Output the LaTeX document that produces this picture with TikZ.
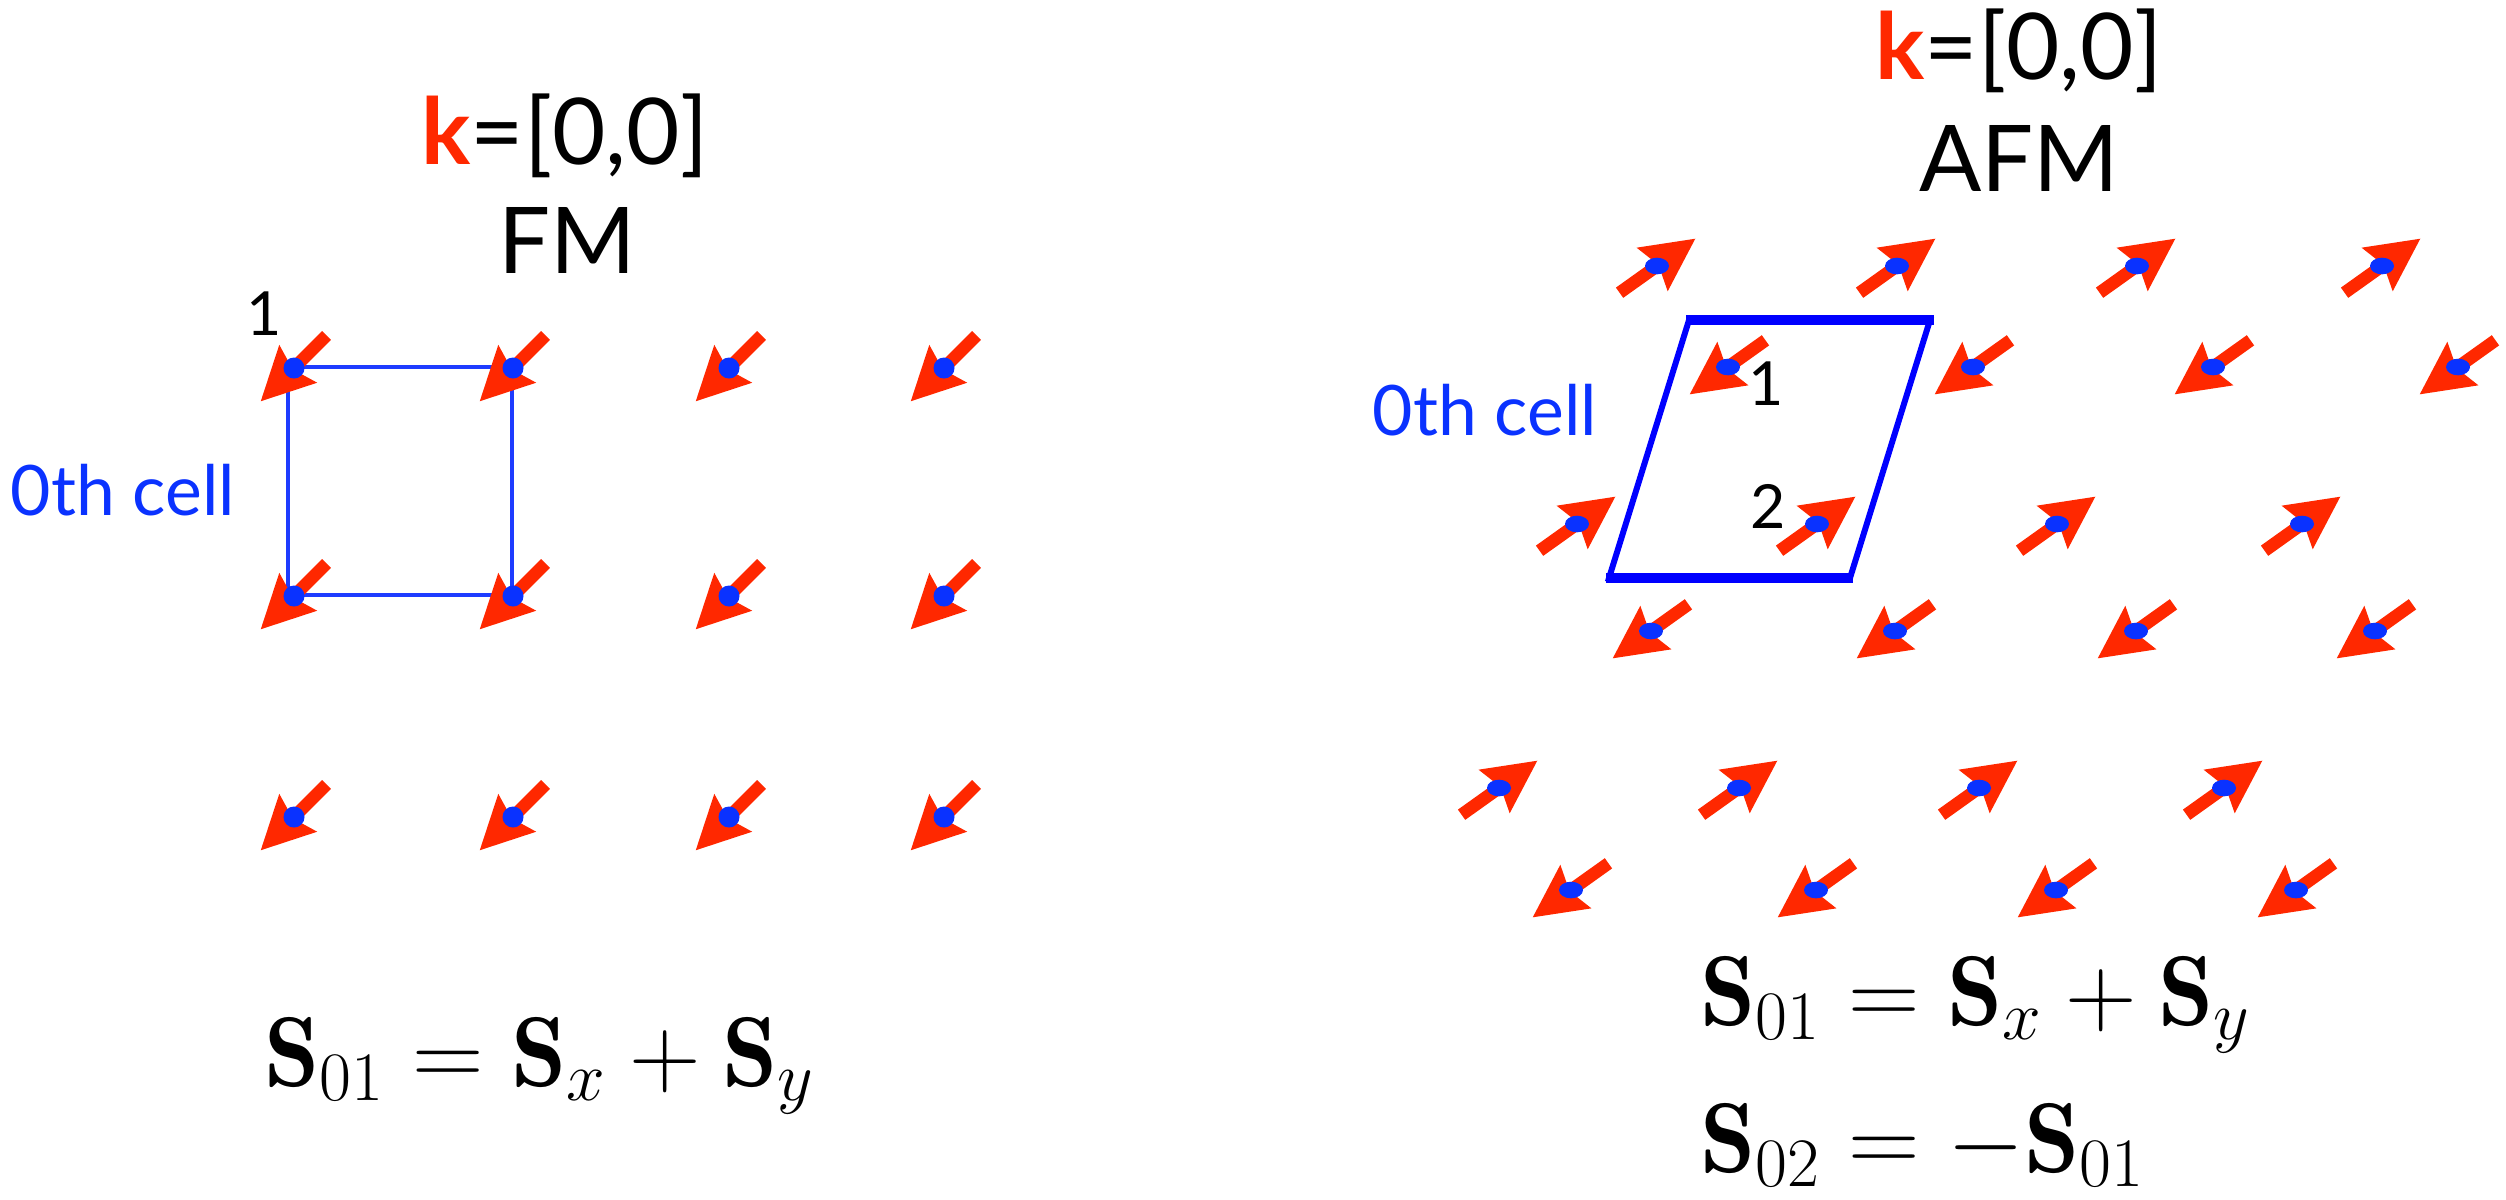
\RequirePackage{fix-cm}
\documentclass[tikz,border=0pt]{standalone}
\usepackage{amsmath}
\usepackage{fontspec}
\newfontfamily\gill{Lato}
\usetikzlibrary{shapes.geometric}
\definecolor{arrowred}{RGB}{255,40,0}
\definecolor{dotblue}{RGB}{10,50,255}
\definecolor{cellblue}{RGB}{30,60,255}
\definecolor{parablue}{RGB}{0,0,255}
\tikzset{
  spin/.pic={\fill[arrowred] (-46,-6.3) -- (0,-6.3) -- (-6,-26.8) -- (47,0) -- (-6,26.8) -- (0,6.3) -- (-46,6.3) -- cycle;},
  fmdot/.style={circle,fill=dotblue,inner sep=0pt,minimum size=0.21cm},
  afmdot/.style={ellipse,fill=dotblue,inner sep=0pt,minimum width=0.24cm,minimum height=0.166cm},
  titletext/.style={anchor=base,inner sep=0pt,font=\gill\fontsize{26.2}{30}\selectfont},
  celltext/.style={anchor=base,inner sep=0pt,text=dotblue,font=\gill\fontsize{19.8}{24}\selectfont},
  numtext/.style={anchor=base,inner sep=0pt,font=\gill\fontsize{17.3}{20}\selectfont},
  eqtext/.style={anchor=base,inner sep=0pt,font=\fontsize{28.2}{34}\selectfont},
}
\begin{document}
\begin{tikzpicture}[x=0.01cm,y=-0.01cm]
\useasboundingbox[fill=white] (0,0) rectangle (2506,1199);

% ---------------- FM panel ----------------
\coordinate (sqTL) at (288,367);
\coordinate (sqTR) at (512,367);
\coordinate (sqBR) at (512,595);
\coordinate (sqBL) at (288,595);
\draw[cellblue,line width=1.15pt] (sqTL) -- (sqTR) -- (sqBR) -- (sqBL) -- cycle;

\foreach \x in {294,513,729,944}
  \foreach \y in {368,596,817}
    {\path (\x,\y) pic[rotate=225]{spin};}
\foreach \x [count=\i] in {294,513,729,944}
  \foreach \y [count=\j] in {368,596,817}
    {\node[fmdot] (fm-\i-\j) at (\x,\y) {};}

\node[titletext] (kL) at (565,164) {\textcolor{arrowred}{\bfseries k}=[0,0]};
\node[titletext] (fmL) at (567,273) {FM};
\node[numtext] (oneL) at (264,335) {1};
\node[celltext] (cellL) at (123,515) {0th cell};
\node[eqtext] (eqL) at (540,1086) {$\mathbf{S}_{01}=\mathbf{S}_x+\mathbf{S}_y$};

% ---------------- AFM panel ----------------
\coordinate (pTL) at (1689,320);
\coordinate (pTR) at (1930,320);
\coordinate (pBR) at (1850,578);
\coordinate (pBL) at (1609,578);
\draw[parablue,line width=1.7pt,line join=miter] (pTL) -- (pTR) -- (pBR) -- (pBL) -- cycle;
\draw[parablue,line width=3.1pt] ([xshift=-0.03cm]pTL) -- ([xshift=0.04cm]pTR);
\draw[parablue,line width=3.1pt] ([xshift=-0.03cm]pBL) -- ([xshift=0.03cm]pBR);

\foreach \x/\y/\a [count=\i] in {
  1657/266/35.5, 1897/266/35.5, 2137/266/35.5, 2382/266/35.5,
  1728/367/215.5, 1973/367/215.5, 2213/367/215.5, 2458/367/215.5,
  1577/524/35.5, 1817/524/35.5, 2057/524/35.5, 2302/524/35.5,
  1651/631/215.5, 1895/631/215.5, 2136/631/215.5, 2375/631/215.5,
  1499/788/35.5, 1739/788/35.5, 1979/788/35.5, 2224/788/35.5,
  1571/890/215.5, 1816/890/215.5, 2056/890/215.5, 2296/890/215.5}
  {\path (\x,\y) pic[rotate=\a]{spin};
   \node[afmdot] (afm-\i) at (\x,\y) {};}

\node[titletext] (kR) at (2019,79) {\textcolor{arrowred}{\bfseries k}=[0,0]};
\node[titletext] (afmR) at (2019,191) {AFM};
\node[celltext] (cellR) at (1485,435) {0th cell};
\node[numtext] (oneR) at (1766,405) {1};
\node[numtext] (twoR) at (1768,528) {2};
\node[eqtext] (eqR1) at (1976,1025) {$\mathbf{S}_{01}=\mathbf{S}_x+\mathbf{S}_y$};
\node[eqtext] (eqR2) at (1923,1172) {$\mathbf{S}_{02}=-\mathbf{S}_{01}$};
\end{tikzpicture}
\end{document}
